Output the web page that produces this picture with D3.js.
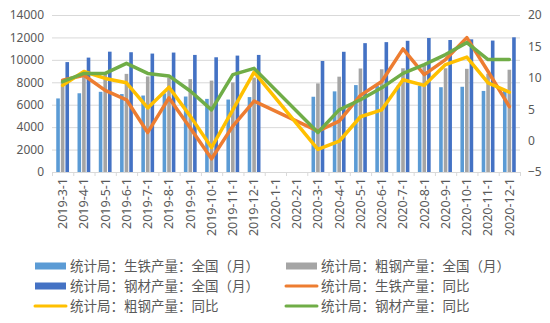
<!DOCTYPE html>
<html>
<head>
<meta charset="utf-8">
<script src="https://cdn.jsdelivr.net/npm/d3@7/dist/d3.min.js"></script>
<style>
  html, body { margin: 0; padding: 0; background: #fff; }
  svg { display: block; }
  text { font-family: "Noto Sans", "Noto Sans CJK SC", sans-serif; fill: #595959; }
</style>
</head>
<body>
<script>
// Monthly categories (Jan/Feb 2020 have no figures)
const months = ["2019-3-1","2019-4-1","2019-5-1","2019-6-1","2019-7-1","2019-8-1","2019-9-1","2019-10-1","2019-11-1","2019-12-1",
  "2020-1-1","2020-2-1","2020-3-1","2020-4-1","2020-5-1","2020-6-1","2020-7-1","2020-8-1","2020-9-1","2020-10-1","2020-11-1","2020-12-1"];

// Output, 10k tonnes (left axis)
const pigIron       = [6560, 7020, 7150, 6950, 6820, 7010, 6730, 6520, 6460, 6680, null, null, 6710, 7190, 7750, 7700, 7700, 7700, 7560, 7600, 7230, 7250];
const crudeSteel    = [8030, 8500, 8910, 8750, 8520, 8420, 8280, 8150, 7990, 8420, null, null, 7900, 8500, 9230, 9160, 9250, 9480, 9250, 9200, 8770, 9120];
const steelProducts = [9800, 10200, 10730, 10680, 10560, 10650, 10440, 10230, 10380, 10440, null, null, 9900, 10720, 11490, 11580, 11700, 11950, 11770, 11830, 11720, 12010];

// Year-on-year change, % (right axis)
const pigIronYoY       = [9.6, 10.4, 8.0, 6.5, 1.3, 6.8, 2.0, -2.9, 2.3, 6.3, null, null, 1.5, 3.1, 7.2, 9.4, 14.6, 10.5, 12.9, 16.4, 11.0, 5.4];
const crudeSteelYoY    = [8.8, 11.0, 9.9, 9.2, 5.2, 8.5, 3.9, -1.1, 4.9, 10.9, null, null, -1.4, -0.1, 3.8, 4.9, 9.7, 8.8, 12.1, 13.3, 9.2, 7.7];
const steelProductsYoY = [9.4, 10.7, 10.7, 12.3, 10.7, 10.3, 7.9, 4.9, 10.5, 11.5, null, null, 1.3, 4.9, 6.5, 8.4, 10.7, 12.1, 13.7, 15.6, 12.9, 12.9];

const leftTicks  = [0, 2000, 4000, 6000, 8000, 10000, 12000, 14000];
const rightTicks = [-5, 0, 5, 10, 15, 20];

const barSeries = [
  { name: "统计局：生铁产量：全国（月）", values: pigIron,       color: "#5B9BD5" },
  { name: "统计局：粗钢产量：全国（月）", values: crudeSteel,    color: "#A5A5A5" },
  { name: "统计局：钢材产量：全国（月）", values: steelProducts, color: "#4472C4" }
];
const lineSeries = [
  { name: "统计局：生铁产量：同比", values: pigIronYoY,       color: "#ED7D31" },
  { name: "统计局：粗钢产量：同比", values: crudeSteelYoY,    color: "#FFC000" },
  { name: "统计局：钢材产量：同比", values: steelProductsYoY, color: "#70AD47" }
];

const W = 550, H = 323;
const plot = { left: 52, right: 520, top: 15, bottom: 172 };

const svg = d3.select("body").append("svg").attr("width", W).attr("height", H);

const x = d3.scaleBand().domain(months).range([plot.left, plot.right]).paddingInner(0).paddingOuter(0);
const yL = d3.scaleLinear().domain([0, 14000]).range([plot.bottom, plot.top]);
const yR = d3.scaleLinear().domain([-5, 20]).range([plot.bottom, plot.top]);

// Horizontal gridlines from the left axis
svg.append("g").selectAll("line").data(leftTicks).join("line")
  .attr("x1", plot.left).attr("x2", plot.right)
  .attr("y1", d => yL(d) + 0.5).attr("y2", d => yL(d) + 0.5)
  .attr("stroke", "#D9D9D9").attr("stroke-width", 1);

// Left axis labels
const leftAxis = d3.axisLeft(yL).tickValues(leftTicks).tickSize(0).tickPadding(8).tickFormat(d3.format("d"));
const gL = svg.append("g").attr("transform", `translate(${plot.left},0)`).call(leftAxis);
gL.select(".domain").remove();
gL.selectAll("text").style("font-size", "12px").style("fill", "#595959");

// Right axis labels
const rightAxis = d3.axisRight(yR).tickValues(rightTicks).tickSize(0).tickPadding(8);
const gR = svg.append("g").attr("transform", `translate(${plot.right},0)`).call(rightAxis);
gR.select(".domain").remove();
gR.selectAll("text").style("font-size", "12px").style("fill", "#595959");

// Clustered bars
const barW = 3.6, barStep = 4.6;
barSeries.forEach((s, si) => {
  svg.append("g").selectAll("rect")
    .data(months.map((m, i) => ({ m, v: s.values[i] })).filter(d => d.v != null))
    .join("rect")
    .attr("x", d => x(d.m) + x.bandwidth() / 2 + (si - 1) * barStep - barW / 2)
    .attr("y", d => yL(d.v))
    .attr("width", barW)
    .attr("height", d => yL(0) - yL(d.v))
    .attr("fill", s.color);
});

// Category axis
const bottomAxis = d3.axisBottom(x).tickSize(0).tickPadding(0);
const gB = svg.append("g").attr("transform", `translate(0,${plot.bottom})`).call(bottomAxis);
gB.select(".domain").attr("stroke", "#D9D9D9");
gB.selectAll("text")
  .attr("transform", "rotate(-90)")
  .attr("text-anchor", "end")
  .attr("x", -6).attr("y", 0).attr("dy", "0.35em")
  .style("font-size", "12.5px").style("fill", "#595959");
// tick marks at category boundaries
svg.append("g").selectAll("line")
  .data(months.concat(["__end"]))
  .join("line")
  .attr("x1", (d, i) => plot.left + i * x.step() + 0.5)
  .attr("x2", (d, i) => plot.left + i * x.step() + 0.5)
  .attr("y1", plot.bottom).attr("y2", plot.bottom + 4)
  .attr("stroke", "#D9D9D9");

// YoY lines (gap months skipped, points joined across)
const line = d3.line()
  .x(d => x(d.m) + x.bandwidth() / 2)
  .y(d => yR(d.v));
lineSeries.forEach(s => {
  const pts = months.map((m, i) => ({ m, v: s.values[i] })).filter(d => d.v != null);
  svg.append("path").datum(pts)
    .attr("d", line)
    .attr("fill", "none")
    .attr("stroke", s.color)
    .attr("stroke-width", 3.5)
    .attr("stroke-linejoin", "round")
    .attr("stroke-linecap", "round");
});

// Legend
const legendItems = [
  { s: barSeries[0], type: "bar", col: 0, row: 0 },
  { s: barSeries[1], type: "bar", col: 1, row: 0 },
  { s: barSeries[2], type: "bar", col: 0, row: 1 },
  { s: lineSeries[0], type: "line", col: 1, row: 1 },
  { s: lineSeries[1], type: "line", col: 0, row: 2 },
  { s: lineSeries[2], type: "line", col: 1, row: 2 }
];
const colX = [35, 286], rowY = [266, 286, 306], swW = 31;
const lg = svg.append("g");
legendItems.forEach(it => {
  const gx = colX[it.col], gy = rowY[it.row];
  if (it.type === "bar") {
    lg.append("rect").attr("x", gx).attr("y", gy - 3.5).attr("width", swW).attr("height", 7).attr("fill", it.s.color);
  } else {
    lg.append("line").attr("x1", gx).attr("x2", gx + swW).attr("y1", gy).attr("y2", gy)
      .attr("stroke", it.s.color).attr("stroke-width", 3).attr("stroke-linecap", "round");
  }
  lg.append("text").attr("x", gx + swW + 4).attr("y", gy).attr("dy", "0.35em")
    .style("font-family", "'Noto Sans CJK SC', sans-serif")
    .style("font-size", "13.5px").style("fill", "#595959")
    .text(it.s.name);
});
</script>
</body>
</html>
